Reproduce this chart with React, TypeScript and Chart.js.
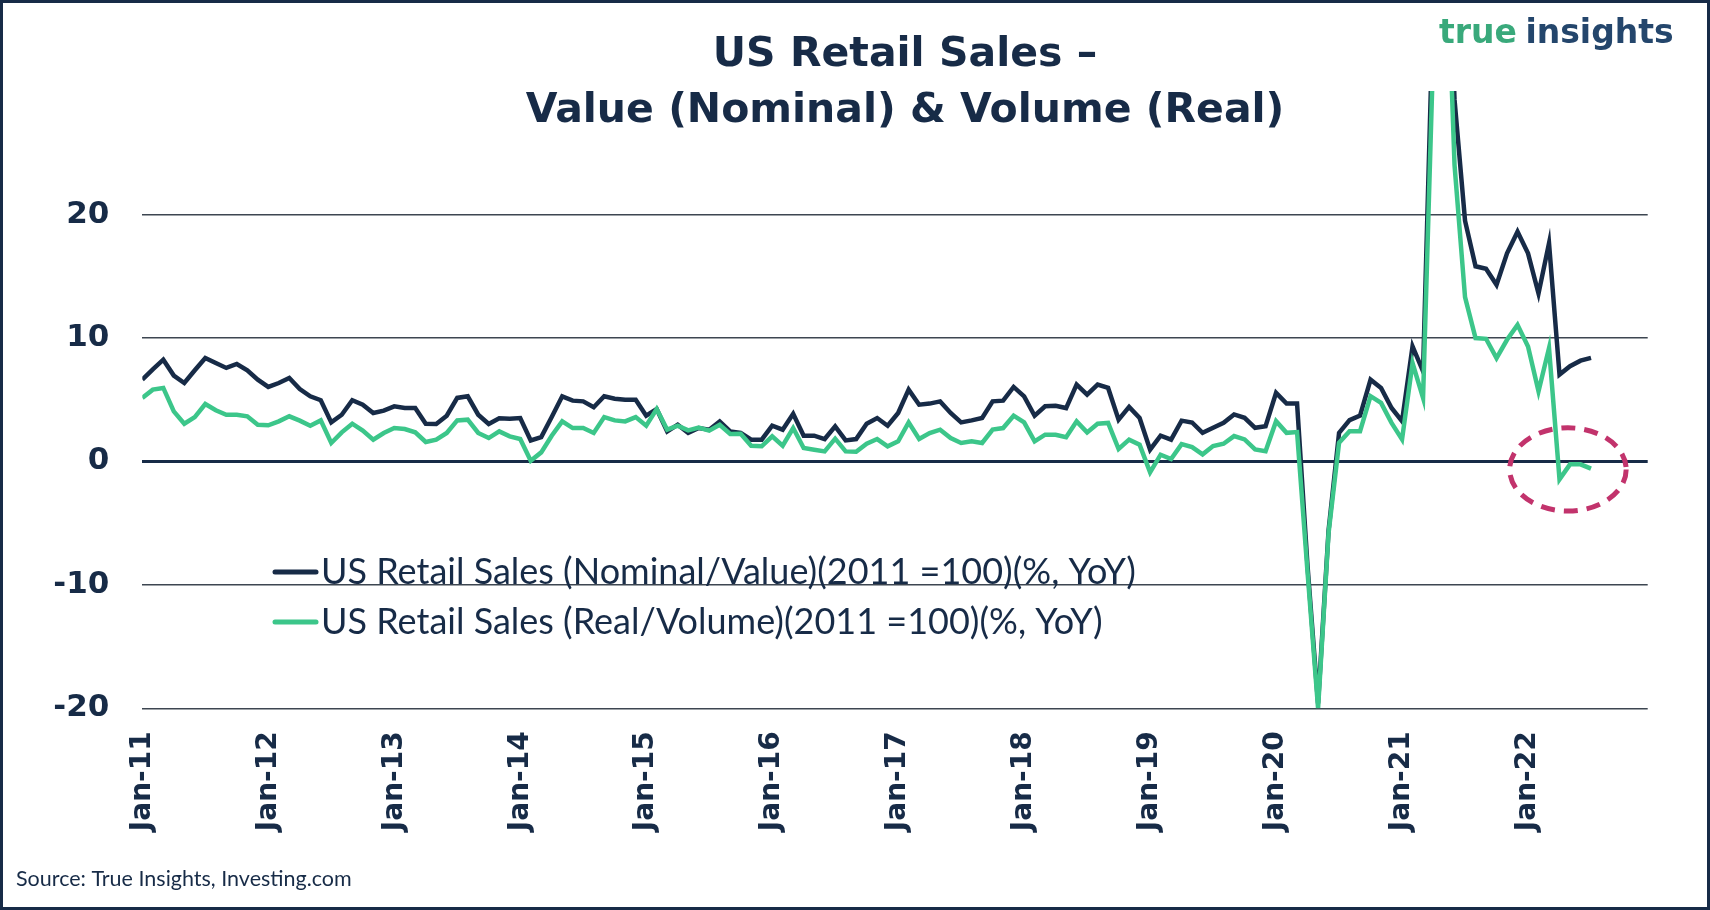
import React, { useEffect, useRef } from "react";
import { Chart, registerables } from "chart.js";

Chart.register(...registerables);

// ---------- data ----------
const monthNames = ["Jan", "Feb", "Mar", "Apr", "May", "Jun", "Jul", "Aug", "Sep", "Oct", "Nov", "Dec"];
const years = ["11", "12", "13", "14", "15", "16", "17", "18", "19", "20", "21", "22"];
const monthLabels: string[] = years.flatMap((y) => monthNames.map((m) => `${m}-${y}`));
const tickMonthIndexes = [0, 12, 24, 36, 48, 60, 72, 84, 96, 108, 120, 132];
const yTickValues = [-20, -10, 0, 10, 20];

const nominalLabel = "US Retail Sales (Nominal/Value)(2011 =100)(%, YoY)";
const realLabel = "US Retail Sales (Real/Volume)(2011 =100)(%, YoY)";

const nominal = [
  6.62, 7.46, 8.24, 6.95, 6.35, 7.38, 8.38, 7.97, 7.57, 7.89, 7.38, 6.62,
  6.03, 6.35, 6.76, 5.86, 5.27, 4.95, 3.16, 3.78, 4.95, 4.59, 3.92, 4.11,
  4.46, 4.32, 4.32, 3.05, 3.03, 3.70, 5.14, 5.27, 3.78, 3.03, 3.49, 3.46,
  3.51, 1.70, 1.97, 3.59, 5.27, 4.92, 4.86, 4.38, 5.27, 5.08, 5.00, 5.00,
  3.70, 4.24, 2.43, 2.97, 2.30, 2.70, 2.57, 3.24, 2.43, 2.30, 1.76, 1.76,
  2.89, 2.57, 3.86, 2.08, 2.08, 1.81, 2.84, 1.70, 1.81, 3.05, 3.51, 2.89,
  3.92, 5.81, 4.59, 4.68, 4.86, 3.92, 3.16, 3.32, 3.51, 4.86, 4.92, 6.03,
  5.27, 3.70, 4.46, 4.51, 4.32, 6.22, 5.41, 6.22, 5.95, 3.38, 4.41, 3.51,
  0.95, 2.08, 1.76, 3.30, 3.15, 2.31, 2.72, 3.12, 3.80, 3.53, 2.72, 2.85,
  5.55, 4.68, 4.68, -8.5, -19.6, -5.6, 2.31, 3.34, 3.71, 6.62, 5.95, 4.33,
  3.26, 9.31, 7.29, 38.0, 52.0, 29.3, 19.5, 15.8, 15.6, 14.3, 16.85, 18.6,
  16.85, 13.6, 17.66, 7.03, 7.71, 8.16, 8.38,
];

const real = [
  5.14, 5.81, 5.95, 4.05, 3.05, 3.59, 4.65, 4.14, 3.78, 3.78, 3.65, 2.97,
  2.92, 3.24, 3.65, 3.30, 2.89, 3.32, 1.49, 2.35, 3.05, 2.49, 1.76, 2.30,
  2.70, 2.62, 2.35, 1.57, 1.76, 2.30, 3.32, 3.38, 2.30, 1.89, 2.43, 2.03,
  1.81, 0.05, 0.73, 2.08, 3.24, 2.70, 2.70, 2.30, 3.59, 3.32, 3.24, 3.59,
  2.89, 4.24, 2.57, 2.89, 2.51, 2.73, 2.49, 2.97, 2.22, 2.24, 1.27, 1.22,
  2.03, 1.27, 2.70, 1.08, 0.95, 0.81, 1.84, 0.81, 0.78, 1.43, 1.81, 1.22,
  1.62, 3.16, 1.81, 2.30, 2.57, 1.89, 1.49, 1.62, 1.49, 2.57, 2.70, 3.70,
  3.16, 1.62, 2.16, 2.16, 1.95, 3.24, 2.35, 3.05, 3.11, 1.00, 1.76, 1.35,
  -0.89, 0.54, 0.19, 1.40, 1.15, 0.57, 1.24, 1.43, 2.05, 1.78, 0.97, 0.83,
  3.26, 2.31, 2.37, -9.0, -20.0, -5.8, 1.51, 2.45, 2.45, 5.28, 4.74, 3.12,
  1.78, 7.97, 5.14, 34.0, 48.0, 24.0, 13.3, 9.99, 9.93, 8.37, 9.85, 11.06,
  9.31, 5.68, 9.18, -1.45, -0.24, -0.24, -0.59,
];

// highlight ellipse (in data units)
const highlightCenter = { month: 135.8, value: -0.65 };
const highlightRadius = { months: 5.55, value: 3.37 };

// ---------- style ----------
const NAVY = "#172b47";
const GREEN = "#3cc68a";
const GRID = "#3d4651";
const CRIMSON = "#c2336c";
const LOGO_GREEN = "#39a97b";
const LOGO_NAVY = "#24466c";

const overlayPlugin = {
  id: "overlay",
  beforeDraw(chart: any) {
    const { ctx, width, height } = chart;
    ctx.save();
    ctx.fillStyle = "#ffffff";
    ctx.fillRect(0, 0, width, height);
    ctx.restore();
  },
  afterDatasetsDraw(chart: any) {
    const { ctx, scales } = chart;
    const cx = scales.x.getPixelForValue(highlightCenter.month);
    const cy = scales.y.getPixelForValue(highlightCenter.value);
    const rx = Math.abs(scales.x.getPixelForValue(highlightCenter.month + highlightRadius.months) - cx);
    const ry = Math.abs(scales.y.getPixelForValue(highlightCenter.value + highlightRadius.value) - cy);
    ctx.save();
    ctx.strokeStyle = CRIMSON;
    ctx.lineWidth = 5;
    ctx.setLineDash([14, 9]);
    ctx.beginPath();
    ctx.ellipse(cx, cy, rx, ry, 0, 0, Math.PI * 2);
    ctx.stroke();
    ctx.restore();
  },
  afterDraw(chart: any) {
    const { ctx, width, height } = chart;
    ctx.save();
    // title
    ctx.fillStyle = NAVY;
    ctx.textAlign = "center";
    ctx.textBaseline = "alphabetic";
    ctx.font = 'bold 41px "DejaVu Sans"';
    ctx.fillText("US Retail Sales –", 905, 66);
    ctx.fillText("Value (Nominal) & Volume (Real)", 905, 122);

    // logo
    ctx.textAlign = "left";
    ctx.font = 'bold 33px "DejaVu Sans"';
    const w1 = ctx.measureText("true ").width;
    ctx.fillStyle = LOGO_GREEN;
    ctx.fillText("true", 1439, 43);
    ctx.fillStyle = LOGO_NAVY;
    ctx.fillText("insights", 1439 + w1 - 3, 43);

    // legend
    const ds = chart.data.datasets;
    const rows = [
      { label: ds[0].label, color: ds[0].borderColor, y: 572 },
      { label: ds[1].label, color: ds[1].borderColor, y: 622 },
    ];
    ctx.font = '36px "Lato"';
    ctx.textBaseline = "middle";
    rows.forEach((r) => {
      ctx.strokeStyle = r.color;
      ctx.lineWidth = 5;
      ctx.lineCap = "round";
      ctx.beginPath();
      ctx.moveTo(275, r.y);
      ctx.lineTo(316, r.y);
      ctx.stroke();
      ctx.fillStyle = NAVY;
      ctx.fillText(r.label, 321, r.y);
    });

    // source
    ctx.textBaseline = "alphabetic";
    ctx.font = '21.5px "Lato"';
    ctx.fillStyle = NAVY;
    ctx.fillText("Source: True Insights, Investing.com", 16, 886);

    // frame
    ctx.fillStyle = NAVY;
    ctx.fillRect(0, 0, width, 3);
    ctx.fillRect(0, height - 3, width, 3);
    ctx.fillRect(0, 0, 3, height);
    ctx.fillRect(width - 3, 0, 3, height);
    ctx.restore();
  },
};

export default function App() {
  const canvasRef = useRef<HTMLCanvasElement | null>(null);

  useEffect(() => {
    document.body.style.margin = "0";
    const canvas = canvasRef.current;
    if (!canvas) return;
    const chart = new Chart(canvas, {
      type: "line",
      data: {
        datasets: [
          {
            label: nominalLabel,
            data: nominal.map((y, i) => ({ x: i, y })),
            borderColor: NAVY,
            backgroundColor: NAVY,
            borderWidth: 4.5,
            pointRadius: 0,
            tension: 0,
            order: 1,
          },
          {
            label: realLabel,
            data: real.map((y, i) => ({ x: i, y })),
            borderColor: GREEN,
            backgroundColor: GREEN,
            borderWidth: 4.5,
            pointRadius: 0,
            tension: 0,
            order: 0,
          },
        ],
      },
      options: {
        responsive: false,
        animation: false,
        devicePixelRatio: 1,
        layout: { padding: { top: 91, right: 62.3, left: 0, bottom: 0 } },
        plugins: {
          legend: { display: false },
          title: { display: false },
          tooltip: { enabled: false },
        },
        scales: {
          x: {
            type: "linear",
            min: 0,
            max: 143.4,
            grid: { display: false, drawTicks: false },
            border: { display: false },
            afterBuildTicks: (scale: any) => {
              scale.ticks = tickMonthIndexes.map((v) => ({ value: v }));
            },
            afterFit: (scale: any) => {
              scale.height = 201.7;
            },
            ticks: {
              autoSkip: false,
              minRotation: 90,
              maxRotation: 90,
              padding: 23,
              color: NAVY,
              font: { family: '"DejaVu Sans"', weight: "bold", size: 28 },
              callback: (v: any) => monthLabels[Number(v)],
            },
          },
          y: {
            min: -20,
            max: 30,
            afterBuildTicks: (scale: any) => {
              scale.ticks = yTickValues.map((v) => ({ value: v }));
            },
            afterFit: (scale: any) => {
              scale.width = 142.3;
            },
            grid: {
              drawTicks: false,
              color: (c: any) => (c.tick && c.tick.value === 0 ? NAVY : GRID),
              lineWidth: (c: any) => (c.tick && c.tick.value === 0 ? 3 : 1.5),
            },
            border: { display: false },
            ticks: {
              padding: 33,
              color: NAVY,
              font: { family: '"DejaVu Sans"', weight: "bold", size: 31 },
            },
          },
        },
      },
      plugins: [overlayPlugin],
    } as any);
    return () => chart.destroy();
  }, []);

  return (
    <canvas
      ref={canvasRef}
      width={1710}
      height={910}
      style={{ display: "block", width: 1710, height: 910 }}
    />
  );
}
